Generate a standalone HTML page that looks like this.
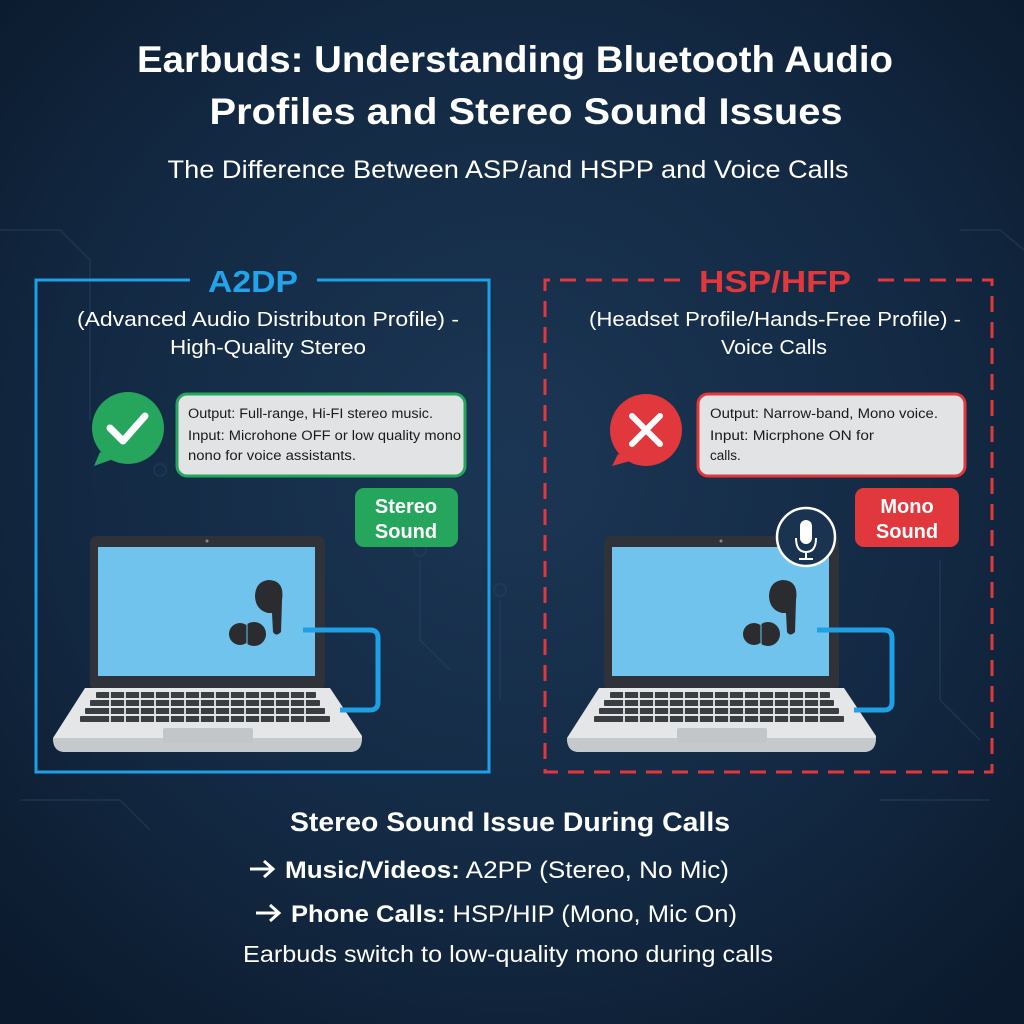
<!DOCTYPE html>
<html><head><meta charset="utf-8"><style>
html,body{margin:0;padding:0;background:#0f1f35;}
svg{display:block}
text{font-family:"Liberation Sans",sans-serif;}
</style></head><body>
<svg width="1024" height="1024" viewBox="0 0 1024 1024" xmlns="http://www.w3.org/2000/svg">
<defs>
<radialGradient id="bg" cx="50%" cy="45%" r="70%">
<stop offset="0" stop-color="#1b3654"/><stop offset="0.6" stop-color="#132943"/><stop offset="1" stop-color="#0b1a2d"/>
</radialGradient>
<g id="laptop">
<rect x="90" y="536" width="235" height="154" rx="7" fill="#2f3238"/>
<circle cx="207" cy="541" r="1.5" fill="#888"/>
<rect x="98" y="547" width="217" height="129" fill="#6fc3ec"/>
<path d="M85 688 H330 L362 736 Q362 752 350 752 H65 Q53 752 53 738 Z" fill="#e4e6e8"/>
<path d="M53 738 Q53 752 65 752 H350 Q362 752 362 738 Z" fill="#c6c9cc"/>
<g fill="#3a3d42">
<rect x="96" y="692" width="220" height="6" rx="1"/>
<rect x="90" y="700" width="230" height="6" rx="1"/>
<rect x="85" y="708" width="240" height="6" rx="1"/>
<rect x="80" y="716" width="250" height="6" rx="1"/>
</g>
<g stroke="#e4e6e8" stroke-width="1.8">
<path d="M110 690V724M125 690V724M140 690V724M155 690V724M170 690V724M185 690V724M200 690V724M215 690V724M230 690V724M245 690V724M260 690V724M275 690V724M290 690V724M305 690V724"/>
</g>
<rect x="163" y="728" width="90" height="15" rx="2" fill="#c3c6c9"/>
<path d="M303 630 H370 Q378 630 378 638 V702 Q378 710 370 710 H340" fill="none" stroke="#1ea0e6" stroke-width="5"/>
<path d="M268 580 Q255 582 255 597 Q256 610 268 613 L272 613 L273 632 Q276 637 281 632 L282 600 Q285 580 268 580 Z" fill="#2b2c30"/>
<circle cx="240" cy="634" r="11" fill="#2b2c30"/>
<circle cx="254" cy="634" r="12" fill="#2b2c30"/>
<line x1="247" y1="624" x2="247" y2="645" stroke="#6fc3ec" stroke-width="1"/>
</g>
</defs>
<rect width="1024" height="1024" fill="url(#bg)"/>
<g stroke="#2a4a6a" stroke-width="2" fill="none" opacity="0.35">
<path d="M0 230 H60 L90 260 V420"/><path d="M960 230 H1000 L1024 250"/><path d="M420 560 V640 L450 670"/>
<path d="M500 600 V700"/><path d="M940 560 V700 L980 740"/><path d="M20 800 H120 L150 830"/>
<path d="M880 800 H990"/><circle cx="420" cy="550" r="6"/><circle cx="500" cy="590" r="6"/><circle cx="160" cy="470" r="6"/>
</g>

<text x="515" y="72" fill="#fff" font-size="37" font-weight="bold" text-anchor="middle" textLength="756" lengthAdjust="spacingAndGlyphs">Earbuds: Understanding Bluetooth Audio</text>
<text x="526" y="124" fill="#fff" font-size="37" font-weight="bold" text-anchor="middle" textLength="633" lengthAdjust="spacingAndGlyphs">Profiles  and  Stereo Sound Issues</text>
<text x="508" y="178" fill="#fff" font-size="25" text-anchor="middle" textLength="681" lengthAdjust="spacingAndGlyphs">The Difference Between ASP/and HSPP and Voice Calls</text>

<path d="M190 280 H36 V772 H489 V280 H317" fill="none" stroke="#1ea0e6" stroke-width="3"/>
<text x="253" y="292" fill="#23a3e8" font-size="31" font-weight="bold" text-anchor="middle" textLength="90" lengthAdjust="spacingAndGlyphs">A2DP</text>
<text x="268" y="326" fill="#fff" font-size="20" text-anchor="middle" textLength="382" lengthAdjust="spacingAndGlyphs">(Advanced Audio Distributon Profile) -</text>
<text x="268" y="354" fill="#fff" font-size="20" text-anchor="middle" textLength="196" lengthAdjust="spacingAndGlyphs">High-Quality Stereo</text>

<circle cx="128" cy="428" r="36" fill="#26a55c"/>
<path d="M100 452 L94 466 L116 458 Z" fill="#26a55c"/>
<path d="M110 428 L123 441 L145 416" fill="none" stroke="#fff" stroke-width="7" stroke-linecap="round" stroke-linejoin="round"/>
<rect x="177" y="394" width="288" height="82" rx="10" fill="#e2e3e4" stroke="#26a55c" stroke-width="3"/>
<text fill="#1a1a1a" font-size="13.5"><tspan x="188" y="418" textLength="245" lengthAdjust="spacingAndGlyphs">Output: Full-range, Hi-FI stereo music.</tspan><tspan x="188" y="440" textLength="273" lengthAdjust="spacingAndGlyphs">Input: Microhone OFF or low quality mono</tspan><tspan x="188" y="460" textLength="168" lengthAdjust="spacingAndGlyphs">nono for voice assistants.</tspan></text>
<rect x="355" y="488" width="103" height="59" rx="9" fill="#26a55c"/>
<text x="406" y="513" fill="#fff" font-size="20" font-weight="bold" text-anchor="middle">Stereo</text>
<text x="406" y="538" fill="#fff" font-size="20" font-weight="bold" text-anchor="middle">Sound</text>
<use href="#laptop"/>

<path d="M680 280 H545 V772 H992 V280 H870" fill="none" stroke="#e0383c" stroke-width="3" stroke-dasharray="16 10"/>
<text x="775" y="292" fill="#e0383c" font-size="31" font-weight="bold" text-anchor="middle" textLength="152" lengthAdjust="spacingAndGlyphs">HSP/HFP</text>
<text x="775" y="326" fill="#fff" font-size="20" text-anchor="middle" textLength="372" lengthAdjust="spacingAndGlyphs">(Headset Profile/Hands-Free Profile) -</text>
<text x="774" y="354" fill="#fff" font-size="20" text-anchor="middle" textLength="106" lengthAdjust="spacingAndGlyphs">Voice Calls</text>

<circle cx="646" cy="430" r="36" fill="#e0383c"/>
<path d="M618 454 L612 466 L634 460 Z" fill="#e0383c"/>
<path d="M632 416 L660 444 M660 416 L632 444" stroke="#fff" stroke-width="6" stroke-linecap="round"/>
<rect x="698" y="394" width="267" height="82" rx="10" fill="#e2e3e4" stroke="#e0383c" stroke-width="3"/>
<text fill="#1a1a1a" font-size="13.5"><tspan x="710" y="418" textLength="228" lengthAdjust="spacingAndGlyphs">Output: Narrow-band, Mono voice.</tspan><tspan x="710" y="440" textLength="164" lengthAdjust="spacingAndGlyphs">Input: Micrphone ON for</tspan><tspan x="710" y="460">calls.</tspan></text>
<rect x="855" y="488" width="104" height="59" rx="9" fill="#e0383c"/>
<text x="907" y="513" fill="#fff" font-size="20" font-weight="bold" text-anchor="middle">Mono</text>
<text x="907" y="538" fill="#fff" font-size="20" font-weight="bold" text-anchor="middle">Sound</text>
<use href="#laptop" transform="translate(514,0)"/>
<circle cx="806" cy="537" r="29" fill="#1a3350" stroke="#fff" stroke-width="2.5"/>
<rect x="800" y="520" width="12" height="24" rx="6" fill="#fff"/>
<path d="M796 538 Q796 552 806 552 Q816 552 816 538 M806 552 V558 M799 559 H813" fill="none" stroke="#fff" stroke-width="2"/>

<text x="510" y="831" fill="#fff" font-size="27" font-weight="bold" text-anchor="middle" textLength="440" lengthAdjust="spacingAndGlyphs">Stereo Sound Issue During Calls</text>
<path d="M250 869 H272 M264 861 L273 869 L264 877" fill="none" stroke="#fff" stroke-width="3"/>
<text x="285" y="878" fill="#fff" font-size="24" textLength="444" lengthAdjust="spacingAndGlyphs"><tspan font-weight="bold">Music/Videos:</tspan> A2PP (Stereo, No Mic)</text>
<path d="M256 913 H278 M270 905 L279 913 L270 921" fill="none" stroke="#fff" stroke-width="3"/>
<text x="291" y="922" fill="#fff" font-size="24" textLength="446" lengthAdjust="spacingAndGlyphs"><tspan font-weight="bold">Phone Calls:</tspan> HSP/HIP (Mono, Mic On)</text>
<text x="508" y="962" fill="#fff" font-size="23" text-anchor="middle" textLength="530" lengthAdjust="spacingAndGlyphs">Earbuds switch to low-quality mono during calls</text>
</svg>
</body></html>
